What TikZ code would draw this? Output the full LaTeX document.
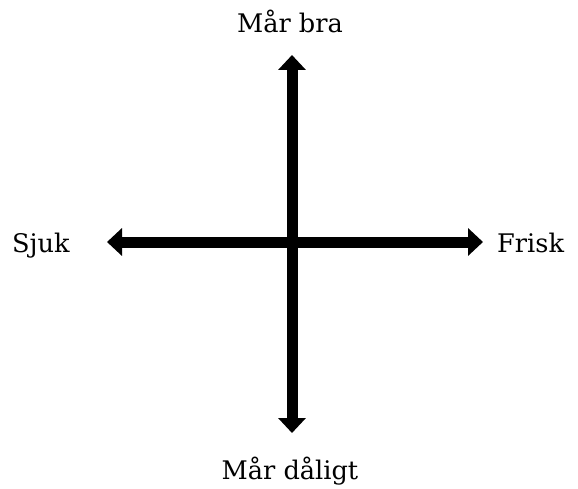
\documentclass[tikz,border=0pt]{standalone}
\usepackage{fontspec}
\setmainfont{DejaVu Serif}
\usetikzlibrary{arrows.meta}
\begin{document}
\begin{tikzpicture}[x=1pt,y=1pt,
  axis/.style={line width=11pt,{Triangle[width=27pt,length=15pt]}-{Triangle[width=27pt,length=15pt]}},
  lbl/.style={font=\fontsize{25.6}{30}\selectfont,inner sep=0pt,anchor=base}]
\useasboundingbox (0,0) rectangle (578,488);
\coordinate (top) at (292,433);
\coordinate (bot) at (292,55);
\coordinate (left) at (107,246);
\coordinate (right) at (483,246);
\draw[axis] (bot) -- (top);
\draw[axis] (left) -- (right);
\node[lbl] (up) at (290,455) {Mår bra};
\node[lbl] (down) at (290,9) {Mår dåligt};
\node[lbl,anchor=base west] (sick) at (12,236) {Sjuk};
\node[lbl,anchor=base west] (well) at (497,236) {Frisk};
\end{tikzpicture}
\end{document}
